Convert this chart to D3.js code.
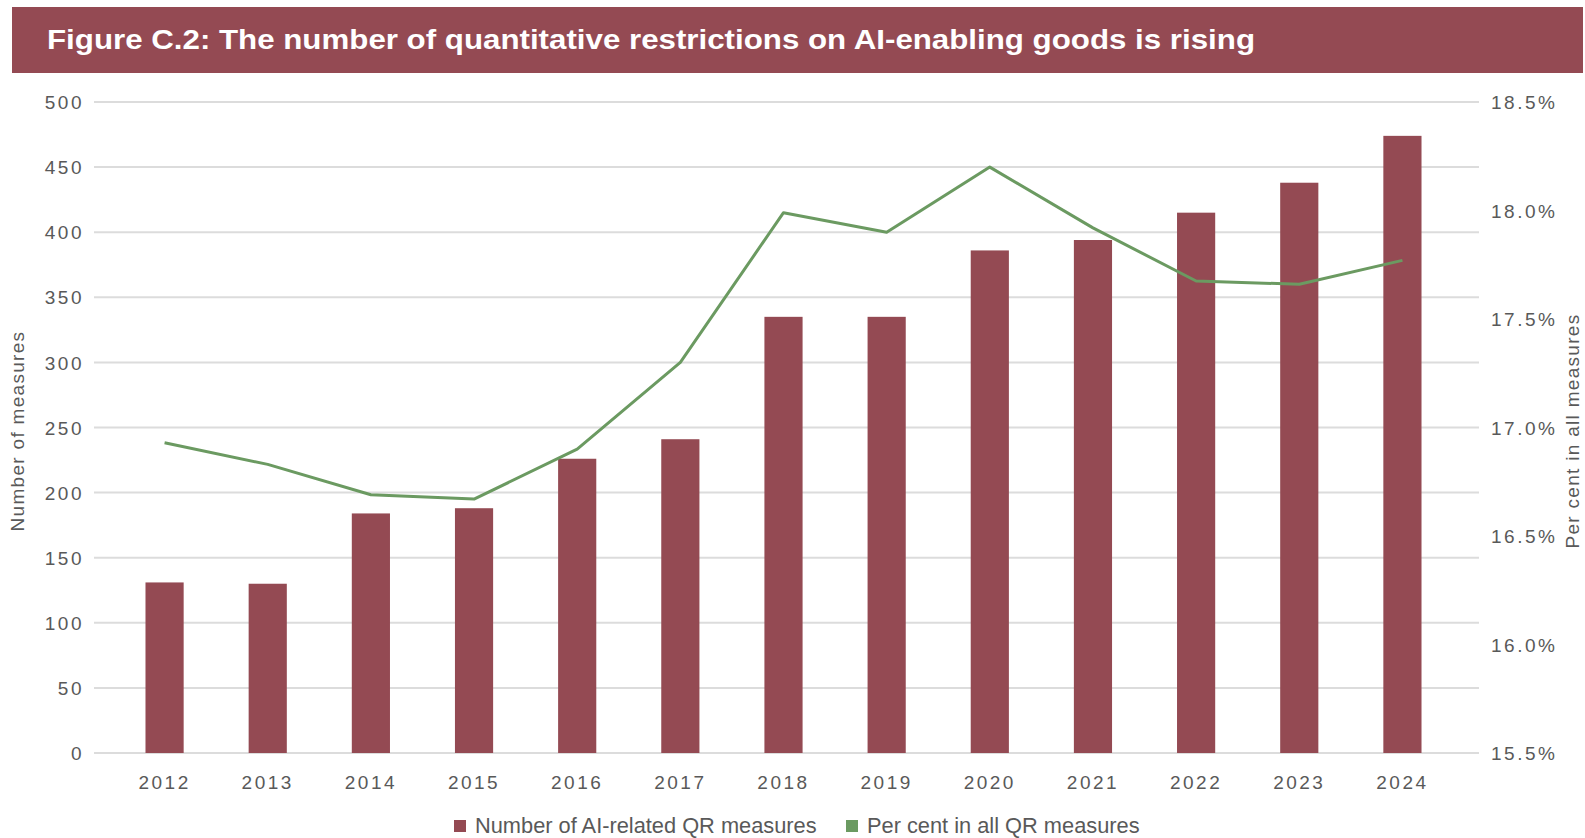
<!DOCTYPE html>
<meta charset="utf-8">
<style>
  body { margin: 0; background: #fff; }
  svg { display: block; }
  .tick-label { font-family: "Liberation Sans", Arial, sans-serif; font-size: 19px; letter-spacing: 2.5px; fill: #595959; }
  .axis-title { font-family: "Liberation Sans", Arial, sans-serif; font-size: 19px; letter-spacing: 1.3px; fill: #595959; }
  .legend-text { font-family: "Liberation Sans", Arial, sans-serif; font-size: 21.8px; fill: #595959; }
</style>
<body>
<script src="https://cdn.jsdelivr.net/npm/d3@7"></script>
<script>
// data
var years = ["2012", "2013", "2014", "2015", "2016", "2017", "2018", "2019", "2020", "2021", "2022", "2023", "2024"];
var qrCounts = [131, 130, 184, 188, 226, 241, 335, 335, 386, 394, 415, 438, 474];
var qrShare = [16.93, 16.83, 16.69, 16.67, 16.90, 17.30, 17.99, 17.90, 18.20, 17.92, 17.675, 17.66, 17.77];
var leftTicks = [0, 50, 100, 150, 200, 250, 300, 350, 400, 450, 500];
var rightTicks = [15.5, 16.0, 16.5, 17.0, 17.5, 18.0, 18.5];
var seriesNames = ["Number of AI-related QR measures", "Per cent in all QR measures"];

var W = 1585, H = 838;
var barColor = "#944a53", lineColor = "#6b9a61", gridColor = "#dcdcdc";

var svg = d3.select("body").append("svg")
  .attr("width", W)
  .attr("height", H);

// title banner
svg.append("rect")
  .attr("x", 12).attr("y", 7)
  .attr("width", 1571).attr("height", 66)
  .attr("fill", barColor);

svg.append("text")
  .attr("x", 47).attr("y", 49)
  .attr("fill", "#fff")
  .style("font-family", "Liberation Sans, Arial, sans-serif")
  .style("font-weight", "bold")
  .style("font-size", "28px")
  .attr("textLength", 1208)
  .attr("lengthAdjust", "spacingAndGlyphs")
  .text("Figure C.2: The number of quantitative restrictions on AI-enabling goods is rising");

// scales
var x = d3.scaleBand()
  .domain(years)
  .range([113, 1454])
  .paddingInner(0.63)
  .paddingOuter(0.315);

var y = d3.scaleLinear().domain([0, 500]).range([753, 102]);
var y2 = d3.scaleLinear().domain([15.5, 18.5]).range([753, 102]);

var gridLeft = 94, gridRight = 1479;

// gridlines
svg.append("g").selectAll("line")
  .data(leftTicks)
  .enter().append("line")
  .attr("x1", gridLeft).attr("x2", gridRight)
  .attr("y1", function(d){ return y(d); })
  .attr("y2", function(d){ return y(d); })
  .attr("stroke", gridColor)
  .attr("stroke-width", 2);

// left axis
var leftAxis = svg.append("g")
  .attr("transform", "translate(" + (gridLeft - 10) + ",0)")
  .call(d3.axisLeft(y).tickValues(leftTicks).tickSize(0).tickPadding(0));
leftAxis.select(".domain").remove();
leftAxis.selectAll("text").attr("class", "tick-label").attr("dy", "0.35em");

// right axis
var rightAxis = svg.append("g")
  .attr("transform", "translate(1491,0)")
  .call(d3.axisRight(y2).tickValues(rightTicks).tickSize(0).tickPadding(0)
    .tickFormat(function(d){ return d3.format(".1f")(d) + "%"; }));
rightAxis.select(".domain").remove();
rightAxis.selectAll("text").attr("class", "tick-label").attr("dy", "0.35em");

// x axis
var xAxis = svg.append("g")
  .attr("transform", "translate(0,775)")
  .call(d3.axisBottom(x).tickSize(0).tickPadding(0));
xAxis.select(".domain").remove();
xAxis.selectAll("text").attr("class", "tick-label").attr("dy", "0.71em");

// bars
svg.append("g").selectAll("rect")
  .data(years)
  .enter().append("rect")
  .attr("x", function(d){ return x(d); })
  .attr("width", x.bandwidth())
  .attr("y", function(d, i){ return y(qrCounts[i]); })
  .attr("height", function(d, i){ return y(0) - y(qrCounts[i]); })
  .attr("fill", barColor);

// line
var line = d3.line()
  .x(function(d, i){ return x(years[i]) + x.bandwidth() / 2; })
  .y(function(d){ return y2(d); });

svg.append("path")
  .datum(qrShare)
  .attr("d", line)
  .attr("fill", "none")
  .attr("stroke", lineColor)
  .attr("stroke-width", 3)
  .attr("stroke-linejoin", "round");

// axis titles
svg.append("text")
  .attr("class", "axis-title")
  .attr("transform", "translate(24,431) rotate(-90)")
  .attr("text-anchor", "middle")
  .text("Number of measures");

svg.append("text")
  .attr("class", "axis-title")
  .attr("transform", "translate(1579,431) rotate(-90)")
  .attr("text-anchor", "middle")
  .text("Per cent in all measures");

// legend
var legendItems = [
  {name: seriesNames[0], color: barColor, x: 454},
  {name: seriesNames[1], color: lineColor, x: 846}
];
var legend = svg.append("g").selectAll("g")
  .data(legendItems)
  .enter().append("g")
  .attr("transform", function(d){ return "translate(" + d.x + ",820)"; });
legend.append("rect")
  .attr("width", 12).attr("height", 12)
  .attr("fill", function(d){ return d.color; });
legend.append("text")
  .attr("class", "legend-text")
  .attr("x", 21).attr("y", 13)
  .text(function(d){ return d.name; });
</script>
</body>
